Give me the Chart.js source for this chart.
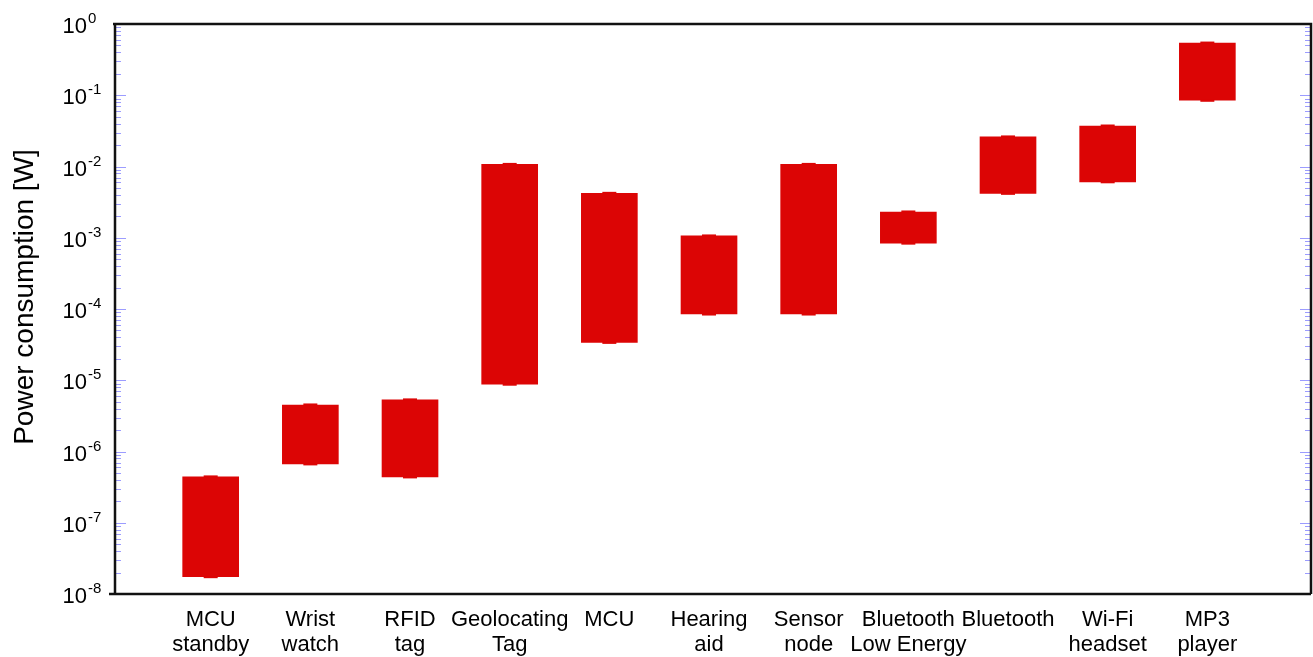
<!DOCTYPE html>
<html>
<head>
<meta charset="utf-8">
<script src="https://cdn.jsdelivr.net/npm/chart.js@4/dist/chart.umd.min.js"></script>
<style>
  html, body { margin: 0; padding: 0; background: #ffffff; }
  #wrap { width: 1313px; height: 657px; }
</style>
</head>
<body>
<div id="wrap"><canvas id="chart" width="1313" height="657"></canvas></div>
<script>
// Device categories (multi-line axis labels)
const categories = [
  ['MCU', 'standby'],
  ['Wrist', 'watch'],
  ['RFID', 'tag'],
  ['Geolocating', 'Tag'],
  ['MCU'],
  ['Hearing', 'aid'],
  ['Sensor', 'node'],
  ['Bluetooth', 'Low Energy'],
  ['Bluetooth'],
  ['Wi-Fi', 'headset'],
  ['MP3', 'player']
];
// Position of each category on the x axis
const positions = [1, 2, 3, 4, 5, 6, 7, 8, 9, 10, 11];
// Power range of each device [W]
const powerMin = [1.75e-8, 6.7e-7, 4.4e-7, 8.8e-6, 3.4e-5, 8.5e-5, 8.5e-5, 8.4e-4, 4.2e-3, 6.1e-3, 0.085];
const powerMax = [4.4e-7, 4.5e-6, 5.3e-6, 1.07e-2, 4.2e-3, 1.06e-3, 1.07e-2, 2.3e-3, 2.6e-2, 3.7e-2, 0.54];
// Decade exponents labelled on the y axis
const yExponents = [0, -1, -2, -3, -4, -5, -6, -7, -8];
const yTitle = 'Power consumption [W]';

const FONT = '"Liberation Sans", Arial, Helvetica, sans-serif';
const BAR_RED = '#dc0505';

// Small caps at both ends of each range bar
const rangeCaps = {
  id: 'rangeCaps',
  afterDatasetsDraw(chart) {
    const ctx = chart.ctx;
    const meta = chart.getDatasetMeta(0);
    ctx.save();
    ctx.fillStyle = BAR_RED;
    meta.data.forEach(bar => {
      const top = Math.min(bar.y, bar.base);
      const bottom = Math.max(bar.y, bar.base);
      ctx.fillRect(bar.x - 7, top - 1.5, 14, 2);
      ctx.fillRect(bar.x - 7, bottom - 0.5, 14, 2);
    });
    ctx.restore();
  }
};

// Log-axis decorations: inward ticks on both sides, 10^n labels, frame, title
const logAxisDecor = {
  id: 'logAxisDecor',
  afterDraw(chart) {
    const ctx = chart.ctx;
    const ys = chart.scales.y;
    const a = chart.chartArea;
    ctx.save();

    // minor and major ticks
    ctx.strokeStyle = '#9c9cff';
    ctx.lineWidth = 1;
    const minE = Math.min(...yExponents), maxE = Math.max(...yExponents);
    for (let e = minE; e <= maxE; e++) {
      for (let m = 1; m <= 9; m++) {
        const v = m * Math.pow(10, e);
        if (v > Math.pow(10, maxE) * 1.0001) break;
        const y = Math.round(ys.getPixelForValue(v)) + 0.5;
        const len = m === 1 ? 10 : 5;
        ctx.beginPath();
        ctx.moveTo(a.left + 1, y); ctx.lineTo(a.left + 1 + len, y);
        ctx.moveTo(a.right - 1, y); ctx.lineTo(a.right - 1 - len, y);
        ctx.stroke();
      }
    }

    // frame
    ctx.strokeStyle = '#111111';
    ctx.lineWidth = 2.5;
    ctx.beginPath();
    ctx.moveTo(a.left - 6, a.bottom); ctx.lineTo(a.right, a.bottom);
    ctx.moveTo(a.right, a.bottom); ctx.lineTo(a.right, a.top);
    ctx.lineTo(a.left - 2, a.top);
    ctx.moveTo(a.left, a.top); ctx.lineTo(a.left, a.bottom);
    ctx.stroke();

    // 10^n labels
    ctx.fillStyle = '#000000';
    ctx.textBaseline = 'middle';
    yExponents.forEach(e => {
      const y = ys.getPixelForValue(Math.pow(10, e));
      ctx.font = '22px ' + FONT;
      ctx.textAlign = 'right';
      ctx.fillText('10', 87, y + 3);
      ctx.font = '15px ' + FONT;
      ctx.textAlign = 'left';
      ctx.fillText(String(e), 88, y - 5);
    });

    // axis title
    ctx.font = '28px ' + FONT;
    ctx.textAlign = 'center';
    ctx.textBaseline = 'middle';
    ctx.translate(25, 297);
    ctx.rotate(-Math.PI / 2);
    ctx.fillText(yTitle, 0, 0);
    ctx.restore();
  }
};

const ranges = positions.map((x, i) => ({ x: x, y: [powerMin[i], powerMax[i]] }));

new Chart(document.getElementById('chart'), {
  type: 'bar',
  data: {
    datasets: [{
      data: ranges,
      backgroundColor: BAR_RED,
      borderWidth: 0,
      borderSkipped: false,
      barThickness: 56
    }]
  },
  options: {
    responsive: false,
    animation: false,
    layout: { padding: { left: 0, top: 24, right: 2, bottom: 0 } },
    plugins: { legend: { display: false }, tooltip: { enabled: false } },
    scales: {
      x: {
        type: 'linear',
        offset: false,
        min: 0.04,
        max: 12.04,
        grid: { display: false, drawTicks: false, offset: false },
        border: { display: false },
        afterBuildTicks: (scale) => { scale.ticks = positions.map(v => ({ value: v })); },
        afterFit: (scale) => { scale.height = 63; },
        ticks: {
          autoSkip: false,
          maxRotation: 0,
          minRotation: 0,
          padding: 13,
          color: '#000000',
          font: { family: FONT, size: 22, lineHeight: 1.15 },
          callback: (v) => categories[positions.indexOf(v)] || ''
        }
      },
      y: {
        type: 'logarithmic',
        min: Math.pow(10, Math.min(...yExponents)),
        max: Math.pow(10, Math.max(...yExponents)),
        grid: { display: false },
        border: { display: false },
        ticks: { display: false },
        afterFit: (scale) => { scale.width = 115; }
      }
    }
  },
  plugins: [rangeCaps, logAxisDecor]
});
</script>
</body>
</html>
